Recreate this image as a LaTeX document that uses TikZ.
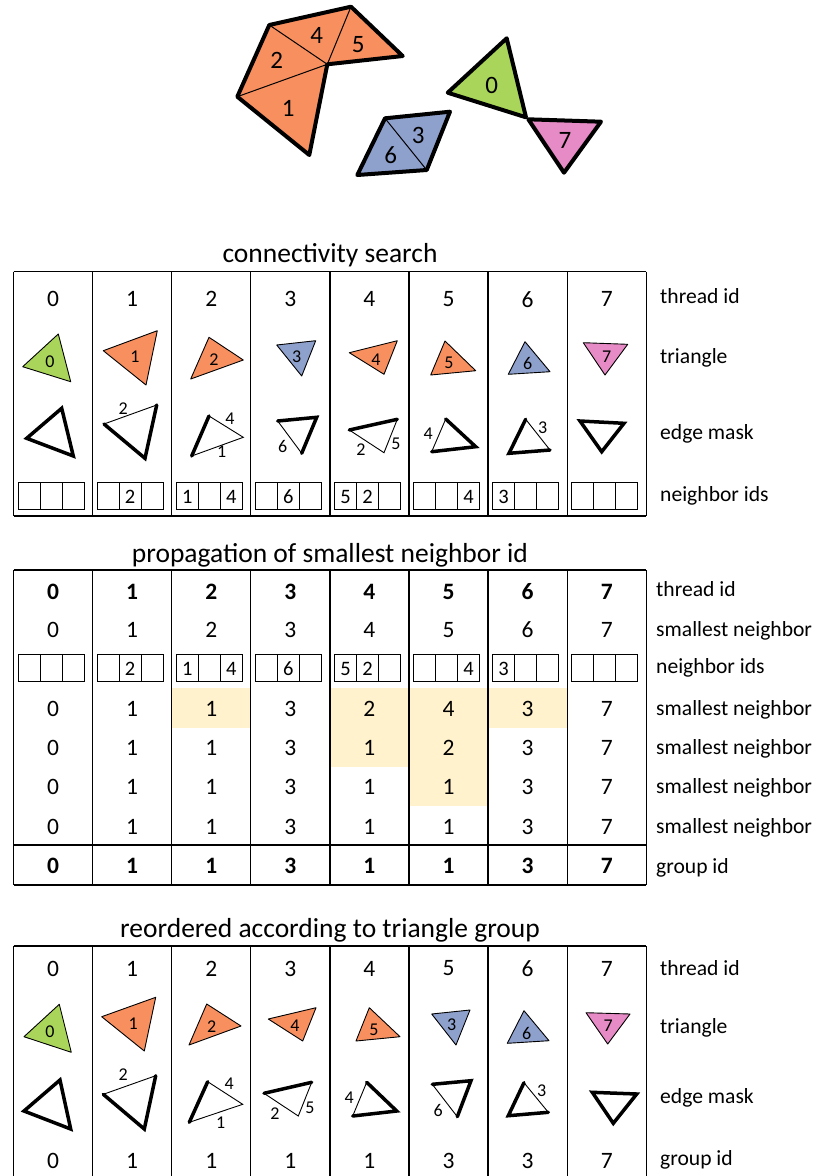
\documentclass[tikz,border=0pt]{standalone}
\usepackage{fontspec}
\setmainfont{Carlito}
\definecolor{tgreen}{HTML}{A9D65A}
\definecolor{torange}{HTML}{F88F5F}
\definecolor{tblue}{HTML}{8EA0CC}
\definecolor{tpink}{HTML}{E68BC5}
\definecolor{hl}{HTML}{FFF2CC}
\tikzset{
  rule/.style={line width=1.3pt},
  outline/.style={line width=4pt, line join=round, line cap=round},
  seam/.style={line width=1pt},
  tri/.style={draw, line width=0.9pt, line join=round},
  hard/.style={line width=3.5pt, line cap=round},
  soft/.style={line width=0.9pt, line cap=round},
  num/.style={font=\fontsize{23.5}{28}\selectfont, inner sep=0pt},
  bnum/.style={inner sep=0pt, font=\bfseries\fontsize{23.5}{28}\selectfont},
  lab/.style={font=\fontsize{21.6}{26}\selectfont, anchor=base west, inner sep=0pt},
  heading/.style={font=\fontsize{27.5}{33}\selectfont, anchor=base, inner sep=0pt},
  tiny/.style={font=\fontsize{18}{21}\selectfont, inner sep=0pt},
  cellnum/.style={font=\fontsize{20.5}{24}\selectfont, inner sep=0pt},
  bignum/.style={font=\fontsize{25}{29}\selectfont, inner sep=0pt},
  nbox/.pic={
    \draw[line width=1pt] (-33,-13.5) rectangle (33,13.5);
    \draw[line width=1pt] (-11,-13.5) -- (-11,13.5) (11,-13.5) -- (11,13.5);
  }
}
\begin{document}
\begin{tikzpicture}[x=1pt,y=-1pt]
\useasboundingbox (0,0) rectangle (815,1176);

% ---------- mesh of triangles ----------
\coordinate (A) at (269.3,25);
\coordinate (B) at (351,6.7);
\coordinate (C) at (402.7,56);
\coordinate (D) at (327.3,64.3);
\coordinate (E) at (309.3,155);
\coordinate (F) at (237.3,96.7);
\fill[torange] (A)--(B)--(C)--(D)--(E)--(F)--cycle;
\draw[seam] (A)--(D) (B)--(D) (F)--(D);
\draw[outline] (A)--(B)--(C)--(D)--(E)--(F)--cycle;
\node[bignum] (m2) at (276.7,60) {2};
\node[bignum] (m4) at (316.7,35) {4};
\node[bignum] (m5) at (358.3,45) {5};
\node[bignum] (m1) at (288.3,108.3) {1};

\coordinate (Q1) at (385,118.3);
\coordinate (Q2) at (450,111.7);
\coordinate (Q3) at (426.7,170);
\coordinate (Q4) at (357.3,175);
\fill[tblue] (Q1)--(Q2)--(Q3)--(Q4)--cycle;
\draw[seam] (Q1)--(Q3);
\draw[outline] (Q1)--(Q2)--(Q3)--(Q4)--cycle;
\node[bignum] (m3) at (418.3,135) {3};
\node[bignum] (m6) at (390.7,155) {6};

\filldraw[fill=tgreen, outline] (506.7,38.3)--(447.7,92.7)--(526,117.3)--cycle;
\filldraw[fill=tpink, outline] (528.3,119.3)--(601,121.7)--(564,172.7)--cycle;
\node[bignum] (m0) at (491.7,85) {0};
\node[bignum] (m7) at (565,140) {7};

% ---------- table 1: connectivity search ----------
\node[heading] (h1) at (330,262) {connectivity search};
\foreach \k in {0,...,8}
  \draw[rule] ({13.5+79.1*\k},271.7) -- ({13.5+79.1*\k},516);
\draw[rule] (13.5,271.7) -- (646.3,271.7) (13.5,516) -- (646.3,516);
\foreach \i in {0,...,7}
  \node[num] (a\i) at ({53.05+79.1*\i},299.2) {\i};

\filldraw[tri, fill=tgreen]  (22.7,366.7)--(58.3,334)--(70.7,381.7)--cycle;
\filldraw[tri, fill=torange] (103.3,350.7)--(157.3,330.7)--(146,385)--cycle;
\filldraw[tri, fill=torange] (190.7,379)--(209,337.3)--(243.3,360)--cycle;
\filldraw[tri, fill=tblue]   (276.7,345)--(315.7,340.7)--(301.7,376)--cycle;
\filldraw[tri, fill=torange] (349.3,352.7)--(397.3,340.7)--(384,374.3)--cycle;
\filldraw[tri, fill=torange] (430.7,375)--(445,341)--(475.7,370.7)--cycle;
\filldraw[tri, fill=tblue]   (508.3,374.3)--(525,341.7)--(550,371.7)--cycle;
\filldraw[tri, fill=tpink]   (583.3,342.7)--(627.7,344.3)--(605,375)--cycle;
\node[tiny] (p0) at (50,361.7) {0};
\node[tiny] (p1) at (135,356.7) {1};
\node[tiny] (p2) at (214,359.3) {2};
\node[tiny] (p3) at (296.7,356.7) {3};
\node[tiny] (p4) at (376,359.3) {4};
\node[tiny] (p5) at (449,362.7) {5};
\node[tiny] (p6) at (527.7,363.3) {6};
\node[tiny] (p7) at (606.7,356.7) {7};

% edge masks: thin = open edge, thick = boundary edge
\draw[hard] (26.7,438.3)--(61.7,408.3)--(73.3,456)--cycle;
\draw[soft] (104,424)--(156.7,405);
\draw[hard] (156.7,405)--(145,458.3)--(104,424);
\node[tiny] (e12) at (123.3,408.3) {2};
\draw[soft] (209,416)--(243.3,437.3)--(191.7,456);
\draw[hard] (191.7,456)--(209,416);
\node[tiny] (e24) at (230,418.3) {4};
\node[tiny] (e21) at (221.7,451.7) {1};
\draw[soft] (301.7,453.3)--(277.7,421);
\draw[hard] (277.7,421)--(316.7,417.3)--(301.7,453.3);
\node[tiny] (e36) at (282.7,446) {6};
\draw[soft] (397.3,419.3)--(384,452.7)--(349.3,430);
\draw[hard] (349.3,430)--(397.3,419.3);
\node[tiny] (e42) at (361,450) {2};
\node[tiny] (e45) at (396,443.3) {5};
\draw[soft] (431.7,451.7)--(445.7,419);
\draw[hard] (445.7,419)--(475.7,446.7)--(431.7,451.7);
\node[tiny] (e54) at (428.3,433.3) {4};
\draw[soft] (525.7,419.3)--(550,450);
\draw[hard] (525.7,419.3)--(509,453.3)--(550,450);
\node[tiny] (e63) at (542.7,427.3) {3};
\draw[hard] (580,421)--(624,423.3)--(601.7,451.7)--cycle;

% neighbor ids
\foreach \i/\u/\v/\w in {0/{}/{}/{},1/{}/2/{},2/1/{}/4,3/{}/6/{},4/5/2/{},5/{}/{}/4,6/3/{}/{},7/{}/{}/{}}{
  \pgfmathsetmacro\cx{51.05+79.1*\i}
  \pic at (\cx,495.8) {nbox};
  \node[cellnum] at (\cx-22,496.8) {\u};
  \node[cellnum] at (\cx,496.8) {\v};
  \node[cellnum] at (\cx+22,496.8) {\w};
}

\node[lab] (l1a) at (660,303) {thread id};
\node[lab] (l1b) at (660,363.3) {triangle};
\node[lab] (l1c) at (660,439) {edge mask};
\node[lab] (l1d) at (660,501) {neighbor ids};

% ---------- table 2: propagation ----------
\node[heading] (h2) at (330,562) {propagation of smallest neighbor id};
\fill[hl] (171.7,688.3) rectangle (250.8,727.7);
\fill[hl] (330,688.3) rectangle (409.3,766.7);
\fill[hl] (409.3,688.3) rectangle (488.4,805.7);
\fill[hl] (488.4,688.3) rectangle (567.5,727.7);
\foreach \k in {0,...,8}
  \draw[rule] ({13.5+79.1*\k},570) -- ({13.5+79.1*\k},885);
\draw[rule] (13.5,570) -- (646.3,570) (13.5,845) -- (646.3,845) (13.5,885) -- (646.3,885);
\foreach \i in {0,...,7}{
  \node[bnum] (b\i) at ({53.05+79.1*\i},592) {\i};
  \node[num] (s\i) at ({53.05+79.1*\i},629.7) {\i};
}
\foreach \i/\u/\v/\w in {0/{}/{}/{},1/{}/2/{},2/1/{}/4,3/{}/6/{},4/5/2/{},5/{}/{}/4,6/3/{}/{},7/{}/{}/{}}{
  \pgfmathsetmacro\cx{51.05+79.1*\i}
  \pic at (\cx,667.5) {nbox};
  \node[cellnum] at (\cx-22,668.5) {\u};
  \node[cellnum] at (\cx,668.5) {\v};
  \node[cellnum] at (\cx+22,668.5) {\w};
}
\foreach \i/\va/\vb/\vc/\vd in {0/0/0/0/0,1/1/1/1/1,2/1/1/1/1,3/3/3/3/3,4/2/1/1/1,5/4/2/1/1,6/3/3/3/3,7/7/7/7/7}{
  \node[num] (r1\i) at ({53.05+79.1*\i},708.8) {\va};
  \node[num] (r2\i) at ({53.05+79.1*\i},748.2) {\vb};
  \node[num] (r3\i) at ({53.05+79.1*\i},787.2) {\vc};
  \node[num] (r4\i) at ({53.05+79.1*\i},826.7) {\vd};
  \node[bnum] (g\i) at ({53.05+79.1*\i},866.3) {\vd};
}
\node[lab] (l2a) at (656,596) {thread id};
\node[lab] (l2b) at (656,636) {smallest neighbor};
\node[lab] (l2c) at (656,673.3) {neighbor ids};
\node[lab] (l2d) at (656,715.5) {smallest neighbor};
\node[lab] (l2e) at (656,754.7) {smallest neighbor};
\node[lab] (l2f) at (656,793.8) {smallest neighbor};
\node[lab] (l2g) at (656,833) {smallest neighbor};
\node[lab] (l2h) at (656,873.3) {group id};

% ---------- table 3: reordered ----------
\node[heading] (h3) at (330,937) {reordered according to triangle group};
\foreach \k in {0,...,8}
  \draw[rule] ({13.5+79.1*\k},946) -- ({13.5+79.1*\k},1176);
\draw[rule] (13.5,946) -- (646.3,946);
\foreach \i/\g in {0/0,1/1,2/1,3/1,4/1,5/3,6/3,7/7}{
  \node[num] (c\i) at ({53.05+79.1*\i},968.5) {\i};
  \node[num] (d\i) at ({53.05+79.1*\i},1160.8) {\g};
}
\filldraw[tri, fill=tgreen]  (24,1036.7)--(59.3,1004.3)--(71.3,1052.3)--cycle;
\filldraw[tri, fill=torange] (101.7,1016.7)--(155.7,997.3)--(144.3,1051)--cycle;
\filldraw[tri, fill=torange] (189,1045)--(206.7,1004)--(241,1026)--cycle;
\filldraw[tri, fill=torange] (268.3,1019)--(316,1007.7)--(302.7,1041)--cycle;
\filldraw[tri, fill=torange] (356,1041)--(369.3,1007.7)--(400,1036.7)--cycle;
\filldraw[tri, fill=tblue]   (431.7,1014)--(470,1010)--(456,1045)--cycle;
\filldraw[tri, fill=tblue]   (507.3,1043.3)--(524,1010.7)--(549,1040.7)--cycle;
\filldraw[tri, fill=tpink]   (586,1012.7)--(630,1014)--(607.7,1044)--cycle;
\node[tiny] (q0) at (50,1031.7) {0};
\node[tiny] (q1) at (133.3,1023.3) {1};
\node[tiny] (q2) at (211.7,1026.7) {2};
\node[tiny] (q4) at (295,1025.7) {4};
\node[tiny] (q5) at (374,1030) {5};
\node[tiny] (q3) at (451.7,1025) {3};
\node[tiny] (q6) at (526.7,1033.3) {6};
\node[tiny] (q7) at (608.3,1026) {7};

\draw[hard] (24,1111)--(60,1080)--(70.7,1129)--cycle;
\draw[soft] (103.3,1094.3)--(155.7,1075.7);
\draw[hard] (155.7,1075.7)--(144.3,1129)--(103.3,1094.3);
\node[tiny] (f12) at (123.3,1075) {2};
\draw[soft] (207.7,1081.7)--(242.7,1104.3)--(189.3,1122.3);
\draw[hard] (189.3,1122.3)--(207.7,1081.7);
\node[tiny] (f24) at (229.3,1083.3) {4};
\node[tiny] (f21) at (220.7,1122.7) {1};
\draw[soft] (311.7,1082.3)--(298.3,1116)--(264,1093.3);
\draw[hard] (264,1093.3)--(311.7,1082.3);
\node[tiny] (f42) at (275,1114) {2};
\node[tiny] (f45) at (310,1107.3) {5};
\draw[soft] (352.7,1116)--(366.7,1082.3);
\draw[hard] (366.7,1082.3)--(396.7,1111)--(352.7,1116);
\node[tiny] (f54) at (349.3,1097.3) {4};
\draw[soft] (457.3,1116.7)--(432.3,1084.3);
\draw[hard] (432.3,1084.3)--(471,1080.7)--(457.3,1116.7);
\node[tiny] (f36) at (438.3,1110) {6};
\draw[soft] (524,1082.7)--(548.3,1112.3);
\draw[hard] (524,1082.7)--(508.3,1115.7)--(548.3,1112.3);
\node[tiny] (f63) at (541.7,1090.7) {3};
\draw[hard] (592.3,1092.3)--(636.7,1094)--(613.3,1123.3)--cycle;

\node[lab] (l3a) at (660,975.5) {thread id};
\node[lab] (l3b) at (660,1033.3) {triangle};
\node[lab] (l3c) at (660,1103.3) {edge mask};
\node[lab] (l3d) at (660,1165) {group id};
\end{tikzpicture}
\end{document}
